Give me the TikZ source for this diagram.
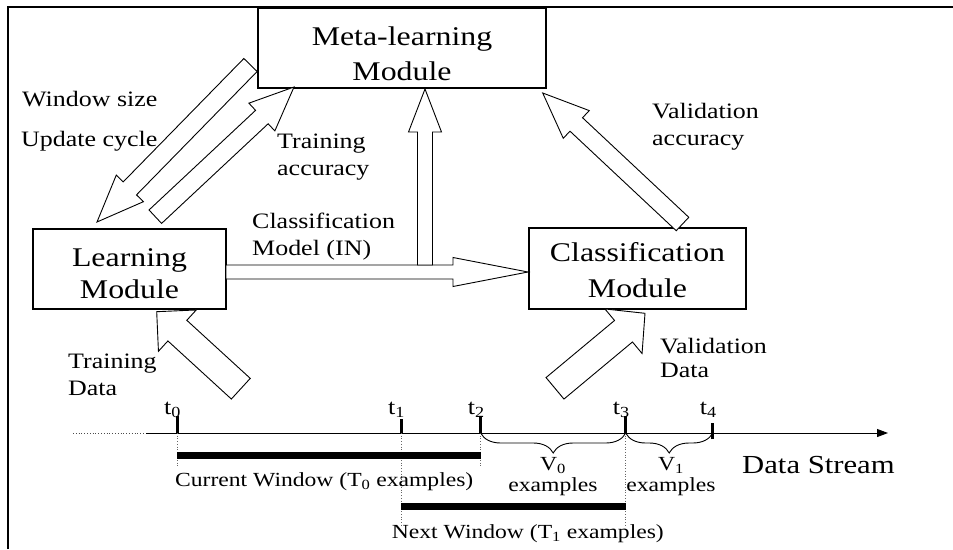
\documentclass[tikz,border=0pt]{standalone}
\usepackage{fontspec}
\setmainfont{Liberation Serif}[FakeStretch=1.18]
\usetikzlibrary{calc,arrows.meta,decorations.pathreplacing}

% Hollow block arrow: #1 tail, #2 tip, #3 half shaft width,
% #4 half head width, #5 head length
\newcommand\blockarrow[5]{%
  \path ($(#2)!#5!(#1)$) coordinate (ba-base);
  \draw[hollow] ($(#1)!#3!90:(#2)$) -- ($(ba-base)!#3!-90:(#1)$)
    -- ($(ba-base)!#4!-90:(#1)$) -- (#2) -- ($(ba-base)!#4!90:(#1)$)
    -- ($(ba-base)!#3!90:(#1)$) -- ($(#1)!#3!-90:(#2)$) -- cycle;}

% invisible strut that sets the height of a first text line
\newcommand\firstline[1]{\rule{0pt}{#1}}

\begin{document}
\begin{tikzpicture}[x=1pt,y=-1pt,
  module/.style={draw, line width=1.2pt, align=center, inner sep=0pt},
  hollow/.style={draw, fill=white, line width=0.9pt, line join=miter},
  lbl/.style={font=\fontsize{22}{27}\selectfont, inner sep=0pt, align=left},
  tlbl/.style={font=\fontsize{20}{21}\selectfont, inner sep=0pt, align=center},
  tick/.style={line width=3pt},
  winbar/.style={line width=7pt},
  guide/.style={dotted, line width=0.7pt, black!60},
]
\useasboundingbox (0,0) rectangle (953,549);
\fill[white] (0,0) rectangle (953,549);
\draw[line width=1.2pt] (8,549) -- (8,7) -- (953,7);

% modules
\node[module, minimum width=288, minimum height=80,
      font=\fontsize{27}{35}\selectfont] (meta) at (402,48)
      {\firstline{30pt}Meta-learning\\Module};
\node[module, minimum width=193, minimum height=80,
      font=\fontsize{27}{32}\selectfont] (learn) at (129.5,269)
      {\firstline{28pt}Learning\\Module};
\node[module, minimum width=217, minimum height=81,
      font=\fontsize{27}{36}\selectfont] (classif) at (637.5,268.5)
      {\firstline{23pt}Classification\\Module};

% block arrow end points
\coordinate (model-tail) at (226,272);
\coordinate (model-tip)  at (528,272);
\coordinate (up-tail)    at (425,265);
\coordinate (up-tip)     at (425,89);
\coordinate (win-tail)   at (250.5,65);
\coordinate (win-tip)    at (97,222);
\coordinate (acc-tail)   at (155.3,216.7);
\coordinate (acc-tip)    at (294,87);
\coordinate (vacc-tail)  at (682.5,224);
\coordinate (vacc-tip)   at (542.7,93);
\coordinate (tdat-tail)  at (240.8,388.7);
\coordinate (tdat-tip)   at (156.7,311.7);
\coordinate (vdat-tail)  at (555,388.3);
\coordinate (vdat-tip)   at (645,313.3);

\blockarrow{model-tail}{model-tip}{7pt}{14.5pt}{75pt}
\blockarrow{up-tail}{up-tip}{7.5pt}{16.5pt}{43pt}
\blockarrow{win-tail}{win-tip}{9.3pt}{19pt}{47pt}
\blockarrow{acc-tail}{acc-tip}{9.2pt}{19pt}{44pt}
\blockarrow{vacc-tail}{vacc-tip}{9.2pt}{19pt}{46pt}
\blockarrow{tdat-tail}{tdat-tip}{14pt}{28pt}{28pt}
\blockarrow{vdat-tail}{vdat-tip}{14pt}{29pt}{28pt}

% arrow labels (base = baseline of the last line)
\node[lbl, anchor=base west] (wsize) at (22,106) {Window size};
\node[lbl, anchor=base west] (ucyc) at (21,146) {Update cycle};
\node[lbl, anchor=base west] (tacc) at (277,175) {Training\\accuracy};
\node[lbl, anchor=base west] (cmod) at (252,255) {Classification\\Model (IN)};
\node[lbl, anchor=base west] (vacc) at (652,145.7) {Validation\\accuracy};
\node[lbl, anchor=base west] (tdat) at (68,395) {Training\\Data};
\node[lbl, anchor=base west, font=\fontsize{22}{23.5}\selectfont] (vdat) at (660,377.3) {Validation\\Data};

% time line
\coordinate (t0) at (177,433);
\coordinate (t1) at (401,433);
\coordinate (t2) at (480.7,433);
\coordinate (t3) at (625.7,433);
\coordinate (t4) at (712.7,433);
\coordinate (axis-start) at (146,433);
\coordinate (axis-end) at (888,433);
\draw[dotted, line width=0.8pt, black!70] (73,433) -- (axis-start);
\draw[line width=0.9pt, -{Triangle[length=11pt,width=8pt]}] (axis-start) -- (axis-end);

\foreach \t/\len in {t0/17,t1/14,t2/17,t3/17}
  \draw[tick] (\t) -- ++(0,-\len);
\draw[tick] ($(t4)+(0,6)$) -- ++(0,-16);

\foreach \t/\i in {t0/0,t1/1,t2/2,t3/3,t4/4}
  \node[lbl, anchor=base west] (lab-\t) at ($(\t)+(-13,-19)$) {t\textsubscript{\i}};

% guide lines down to the window bars
\draw[guide] (t0) -- ++(0,34);
\draw[guide] (t2) -- ++(0,35);
\draw[guide] (t1) -- ++(0,94);
\draw[guide] (t3) -- ++(0,94);

% training windows
\draw[winbar] ($(t0)+(0,22)$) -- ($(t2)+(0,22)$);
\draw[winbar] ($(t1)+(0,73.5)$) -- ($(t3)+(0,73.5)$);
\node[tlbl, anchor=base west] (curwin) at (175,486.7) {Current Window (T\textsubscript{0} examples)};
\node[tlbl, anchor=base west] (nextwin) at (391.7,538.3) {Next Window (T\textsubscript{1} examples)};

% validation blocks
\draw[line width=0.9pt, decorate, decoration={brace, amplitude=20pt, mirror}] (t2) -- (t3);
\draw[line width=0.9pt, decorate, decoration={brace, amplitude=20pt, mirror}] (t3) -- (t4);
\node[tlbl, anchor=base] (v0) at (553,491) {V\textsubscript{0}\\examples};
\node[tlbl, anchor=base] (v1) at (671,491) {V\textsubscript{1}\\examples};

\node[inner sep=0pt, anchor=base west, font=\fontsize{26}{30}\selectfont] (stream) at (742,473.3) {Data Stream};
\end{tikzpicture}
\end{document}
